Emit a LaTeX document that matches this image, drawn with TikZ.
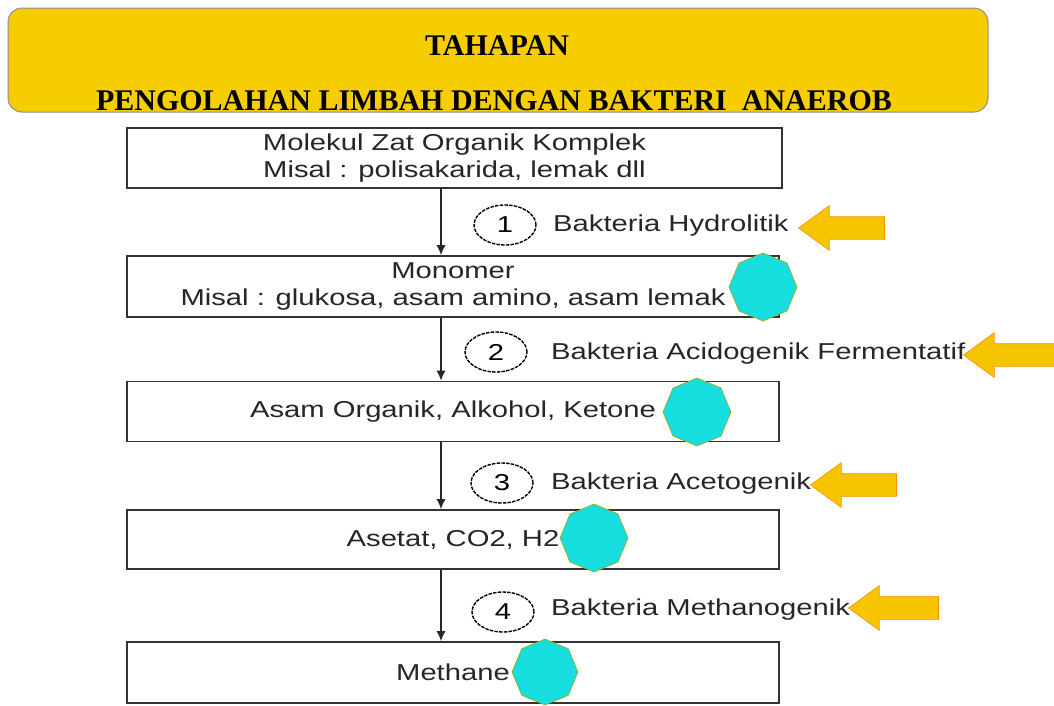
\documentclass[tikz,border=0pt]{standalone}
\usepackage{fontspec}
\setmainfont{Liberation Serif}
\setsansfont[FakeStretch=1.27]{Liberation Sans}
\usetikzlibrary{shapes.geometric,shapes.arrows,arrows.meta}

\definecolor{titlegold}{RGB}{246,206,0}
\definecolor{arrowgold}{RGB}{247,196,0}
\definecolor{octcyan}{RGB}{22,222,222}

\tikzset{
  stagebox/.style={draw=black!80, line width=1.6pt, fill=white,
    minimum width=652pt, minimum height=60pt, inner sep=0pt, align=center,
    text=black!85, font=\sffamily\fontsize{23}{27}\selectfont},
  stepnum/.style={ellipse, draw=black, dash pattern=on 3.5pt off 1.2pt,
    line width=1.4pt, minimum width=62pt, minimum height=40pt, inner sep=0pt,
    font=\sffamily\fontsize{23}{26}\selectfont},
  steplabel/.style={anchor=west, inner sep=0pt, text=black!85,
    font=\sffamily\fontsize{23}{26}\selectfont},
  goldarrow/.style={single arrow, shape border rotate=180, fill=arrowgold,
    draw=orange!80!arrowgold, line width=0.6pt, inner xsep=0pt,
    inner ysep=11pt, single arrow head extend=11pt,
    single arrow tip angle=72, minimum height=86pt, anchor=tip},
  octa/.style={regular polygon, regular polygon sides=8,
    shape border rotate=22.5, fill=octcyan, draw=olive!70!yellow,
    line width=0.6pt, minimum size=68pt, inner sep=0pt},
  flow/.style={line width=1.4pt, black!85, -{Latex[length=10pt,width=9pt]}}
}

\begin{document}
\begin{tikzpicture}[x=1pt,y=-1pt]
    \useasboundingbox (0,0) rectangle (1054,705);

    % title bar
    \draw[fill=titlegold, draw=black!45, line width=1pt, rounded corners=14pt]
        (8,8) rectangle (988,112);
    \node (t1) at (497,46) {\fontsize{30}{34}\selectfont\bfseries TAHAPAN};
    \node (t2) at (494,101)
        {\fontsize{30}{34}\selectfont\bfseries PENGOLAHAN LIMBAH DENGAN BAKTERI\ \ ANAEROB};

    % stages
    \node[stagebox, minimum width=655pt] (b1) at (454.5,158)
        {Molekul Zat Organik Komplek\\Misal : polisakarida, lemak dll};
    \node[stagebox, minimum height=61pt] (b2) at (453,286.5)
        {Monomer\\Misal : glukosa, asam amino, asam lemak};
    \node[stagebox] (b3) at (453,411.5) {Asam Organik, Alkohol, Ketone};
    \node[stagebox, minimum height=59pt] (b4) at (453,539.5) {Asetat, CO2, H2};
    \node[stagebox, minimum height=61pt] (b5) at (453,672.5) {Methane};

    \draw[flow] ([xshift=-13.5pt]b1.south) -- ([xshift=-12pt]b2.north);
    \draw[flow] ([xshift=-12pt]b2.south) -- ([xshift=-12pt]b3.north);
    \draw[flow] ([xshift=-12pt]b3.south) -- ([xshift=-12pt]b4.north);
    \draw[flow] ([xshift=-12pt]b4.south) -- ([xshift=-12pt]b5.north);

    % bacteria steps
    \node[stepnum] (n1) at (505,225) {1};
    \node[steplabel] (l1) at (553,226) {Bakteria Hydrolitik};
    \node[stepnum] (n2) at (496,352) {2};
    \node[steplabel] (l2) at (551,354) {Bakteria Acidogenik Fermentatif};
    \node[stepnum] (n3) at (502,483) {3};
    \node[steplabel] (l3) at (551,484) {Bakteria Acetogenik};
    \node[stepnum] (n4) at (503,612) {4};
    \node[steplabel] (l4) at (551,610) {Bakteria Methanogenik};

    \node[goldarrow] (a1) at (798,228) {};
    \node[goldarrow, minimum height=92pt] (a2) at (963,355) {};
    \node[goldarrow] (a3) at (810,485) {};
    \node[goldarrow, minimum height=90pt] (a4) at (848,608) {};

    % products
    \node[octa] (o1) at (763,287) {};
    \node[octa] (o2) at (697,412) {};
    \node[octa] (o3) at (594,538) {};
    \node[octa, minimum size=66pt] (o4) at (545,672) {};
\end{tikzpicture}
\end{document}
